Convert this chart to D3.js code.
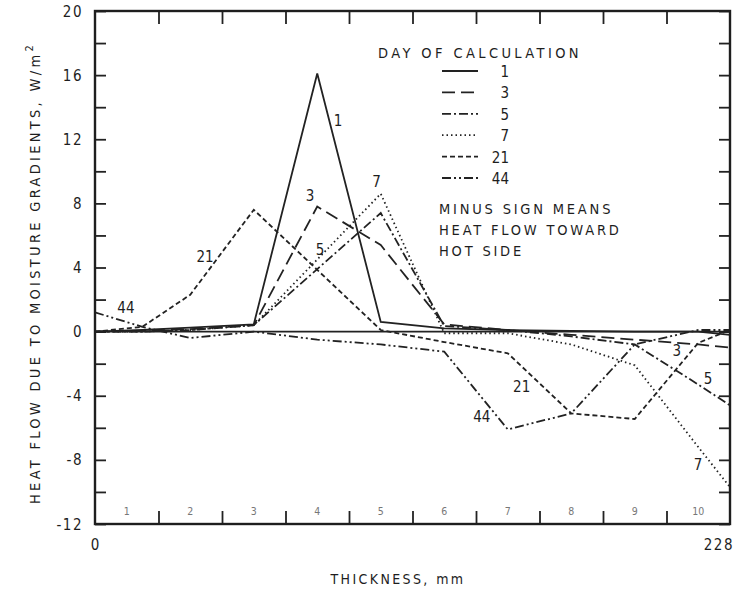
<!DOCTYPE html>
<html>
<head>
<meta charset="utf-8">
<script src="https://cdn.jsdelivr.net/npm/d3@7"></script>
<style>
  body { margin: 0; background: #fff; }
  svg text { font-family: "DejaVu Sans Condensed", "DejaVu Sans", sans-serif; fill: #1e1e1e; }
</style>
</head>
<body>
<script>
// thickness positions (mm) where the curves have points
var xPos = [0, 17, 34.2, 57, 79.8, 102.6, 125.4, 148.2, 171, 193.8, 216.6, 228];

// heat flow values, W/m2, one array per day of calculation
var day1  = [0, 0.1, 0.25, 0.45, 16.1, 0.6, 0.2, 0.1, 0.05, 0, 0, -0.2];
var day3  = [0, 0.05, 0.15, 0.4, 7.8, 5.4, 0.45, 0.1, -0.2, -0.5, -0.8, -1.0];
var day5  = [0, 0, 0.1, 0.4, 3.9, 7.4, 0.35, 0.1, -0.3, -0.8, -3.3, -4.6];
var day7  = [0, 0, 0.1, 0.4, 4.5, 8.6, -0.1, -0.1, -0.8, -2.1, -7.2, -9.7];
var day21 = [0, 0.3, 2.3, 7.6, 3.85, 0.1, -0.65, -1.35, -5.1, -5.45, -0.7, 0.1];
var day44 = [1.2, 0.3, -0.4, 0, -0.5, -0.8, -1.25, -6.1, -5.1, -0.8, 0.1, 0.1];

var dayNames = ["1", "3", "5", "7", "21", "44"];
var dashes = ["none", "13,6", "9,3,2,3", "1.5,3", "5,3", "9,3,2,3,2,3"];

// y ticks and layer numbers
var yTicks = [-12, -10, -8, -6, -4, -2, 0, 2, 4, 6, 8, 10, 12, 14, 16, 18, 20];
var yLabels = [-12, -8, -4, 0, 4, 8, 12, 16, 20];
var layers = [1, 2, 3, 4, 5, 6, 7, 8, 9, 10];
var layerWidth = 22.8;

// labels written beside the curves (mm, W/m2)
var curveLabels = [
  {t: "1", x: 87.3, y: 13.2}, {t: "3", x: 77.2, y: 8.5}, {t: "5", x: 80.8, y: 5.1},
  {t: "7", x: 101.1, y: 9.35}, {t: "21", x: 39.5, y: 4.7}, {t: "44", x: 11.1, y: 1.5},
  {t: "21", x: 153.2, y: -3.45}, {t: "44", x: 138.9, y: -5.3}, {t: "3", x: 208.9, y: -1.15},
  {t: "5", x: 220.1, y: -2.9}, {t: "7", x: 216.5, y: -8.3}
];

var series = [day1, day3, day5, day7, day21, day44];

var W = 747, H = 592;
var margin = {top: 11, right: 17, bottom: 68, left: 95};
var width = W - margin.left - margin.right,
    height = H - margin.top - margin.bottom;

var x = d3.scaleLinear().domain([0, 228]).range([0, width]);
var y = d3.scaleLinear().domain([-12, 20]).range([height, 0]);

var svg = d3.select("body").append("svg")
    .attr("width", W)
    .attr("height", H);

var g = svg.append("g")
    .attr("transform", "translate(" + margin.left + "," + margin.top + ")");

// y ticks, left and right, pointing inward
g.append("g")
    .call(d3.axisRight(y).tickValues(yTicks).tickSize(11).tickFormat(""))
    .call(function(s) { s.select(".domain").remove(); })
    .selectAll("line").attr("stroke", "#222").attr("stroke-width", 1.8);
g.append("g")
    .attr("transform", "translate(" + width + ",0)")
    .call(d3.axisLeft(y).tickValues(yTicks).tickSize(11).tickFormat(""))
    .call(function(s) { s.select(".domain").remove(); })
    .selectAll("line").attr("stroke", "#222").attr("stroke-width", 1.8);

// x ticks at layer boundaries, top and bottom
var bounds = layers.slice(0, 9).map(function(d) { return d * layerWidth; });
g.append("g")
    .attr("transform", "translate(0," + height + ")")
    .call(d3.axisTop(x).tickValues(bounds).tickSize(13).tickFormat(""))
    .call(function(s) { s.select(".domain").remove(); })
    .selectAll("line").attr("stroke", "#222").attr("stroke-width", 1.8);
g.append("g")
    .call(d3.axisBottom(x).tickValues(bounds).tickSize(13).tickFormat(""))
    .call(function(s) { s.select(".domain").remove(); })
    .selectAll("line").attr("stroke", "#222").attr("stroke-width", 1.8);

// y tick labels
g.selectAll(".ylab")
  .data(yLabels)
  .enter().append("text")
    .attr("class", "ylab")
    .attr("x", -12)
    .attr("y", function(d) { return y(d) + 5.5; })
    .attr("text-anchor", "end")
    .style("font-size", "15px")
    .style("letter-spacing", "1.5px")
    .text(function(d) { return d; });

// layer numbers
g.selectAll(".layer")
  .data(layers)
  .enter().append("text")
    .attr("class", "layer")
    .attr("x", function(d) { return x((d - 0.5) * layerWidth); })
    .attr("y", height - 9)
    .attr("text-anchor", "middle")
    .style("font-size", "10.5px")
    .style("fill", "#777")
    .text(function(d) { return d; });

// zero line
g.append("line")
    .attr("x1", x(0)).attr("x2", x(228))
    .attr("y1", y(0)).attr("y2", y(0))
    .attr("stroke", "#222").attr("stroke-width", 1.7);

var line = d3.line()
    .x(function(d, i) { return x(xPos[i]); })
    .y(function(d) { return y(d); });

g.selectAll(".curve")
  .data(series)
  .enter().append("path")
    .attr("class", "curve")
    .attr("d", line)
    .attr("fill", "none")
    .attr("stroke", "#222")
    .attr("stroke-width", 1.8)
    .attr("stroke-dasharray", function(d, i) { return dashes[i]; });

g.selectAll(".clab")
  .data(curveLabels)
  .enter().append("text")
    .attr("class", "clab")
    .attr("x", function(d) { return x(d.x); })
    .attr("y", function(d) { return y(d.y) + 5.5; })
    .attr("text-anchor", "middle")
    .style("font-size", "15px")
    .text(function(d) { return d.t; });

// frame
g.append("rect")
    .attr("width", width).attr("height", height)
    .attr("fill", "none").attr("stroke", "#1e1e1e").attr("stroke-width", 2.4);

// legend
svg.append("text")
    .attr("x", 378).attr("y", 58)
    .style("font-size", "14.5px").style("letter-spacing", "3.4px")
    .text("DAY OF CALCULATION");

var leg = svg.selectAll(".leg")
  .data(dayNames)
  .enter().append("g")
    .attr("class", "leg")
    .attr("transform", function(d, i) { return "translate(442," + (71 + i * 21.4) + ")"; });
leg.append("line")
    .attr("x1", 0).attr("x2", 36)
    .attr("stroke", "#222").attr("stroke-width", 1.8)
    .attr("stroke-dasharray", function(d, i) { return dashes[i]; });
leg.append("text")
    .attr("x", 67).attr("y", 6)
    .attr("text-anchor", "end")
    .style("font-size", "15px")
    .text(function(d) { return d; });

var note = ["MINUS SIGN MEANS", "HEAT FLOW TOWARD", "HOT SIDE"];
svg.selectAll(".note")
  .data(note)
  .enter().append("text")
    .attr("class", "note")
    .attr("x", 439)
    .attr("y", function(d, i) { return 214 + i * 20.8; })
    .style("font-size", "14.5px").style("letter-spacing", "2.8px")
    .text(function(d) { return d; });

// axis end labels and titles
svg.append("text")
    .attr("x", margin.left + x(0)).attr("y", 550)
    .attr("text-anchor", "middle")
    .style("font-size", "15px")
    .text("0");
svg.append("text")
    .attr("x", margin.left + x(228) + 4).attr("y", 550)
    .attr("text-anchor", "end")
    .style("font-size", "15px").style("letter-spacing", "1.5px")
    .text("228");
svg.append("text")
    .attr("x", 398).attr("y", 584)
    .attr("text-anchor", "middle")
    .style("font-size", "14px").style("letter-spacing", "2.4px")
    .text("THICKNESS, mm");

var yt = svg.append("text")
    .attr("transform", "translate(40,273) rotate(-90)")
    .attr("text-anchor", "middle")
    .style("font-size", "14.5px").style("letter-spacing", "3.3px");
yt.append("tspan").text("HEAT FLOW  DUE TO MOISTURE GRADIENTS, W/m");
yt.append("tspan").attr("dy", -7).style("font-size", "11px").text("2");
</script>
</body>
</html>
